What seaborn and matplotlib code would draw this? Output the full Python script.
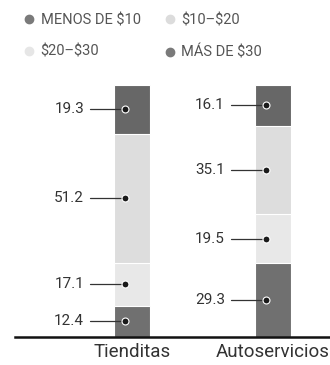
import numpy as np
import pandas as pd
import seaborn as sns
import matplotlib.pyplot as plt
from matplotlib.lines import Line2D

# datos (porcentaje)
tiendas = ["Tienditas", "Autoservicios"]
segmentos = ["MENOS DE \\$10", "\\$10–\\$20", "\\$20–\\$30", "MÁS DE \\$30"]
menos_10 = [12.4, 29.3]
de_10_20 = [17.1, 19.5]
de_20_30 = [51.2, 35.1]
mas_30 = [19.3, 16.1]

colores = ["#707070", "#e8e8e8", "#dddddd", "#676767"]
leyenda_col = ["#7a7a7a", "#dcdcdc", "#e6e6e6", "#7a7a7a"]

sns.set_theme(style="white")
plt.rcParams["font.family"] = ["Roboto", "DejaVu Sans"]

valores = np.array([menos_10, de_10_20, de_20_30, mas_30])
acum = valores.cumsum(axis=0)

fig = plt.figure(figsize=(3.3, 3.65), dpi=100)
ax = fig.add_axes([15 / 330, 28 / 365, 315 / 330, 252 / 365])

# barras apiladas: de arriba hacia abajo para que se superpongan
for k in range(len(segmentos) - 1, -1, -1):
    df = pd.DataFrame({"tienda": tiendas, "valor": acum[k]})
    sns.barplot(data=df, x="tienda", y="valor", color=colores[k], width=0.255,
                saturation=1, edgecolor="white", linewidth=0.8, ax=ax)

px = 1 / 141
for i in range(len(tiendas)):
    for k in range(len(segmentos)):
        ymid = acum[k][i] - valores[k][i] / 2
        xd = i - 7 * px
        ax.plot([i - 42 * px, xd], [ymid, ymid], color="#333333", lw=0.9, zorder=5)
        ax.plot(xd, ymid, "o", ms=5, color="#1a1a1a", mec="white", mew=0.8, zorder=6)
        ax.text(i - 48 * px, ymid, f"{valores[k][i]:.1f}", ha="right", va="center",
                fontsize=11, color="#333333")

ax.set_xlim(-117 * px, 1 + 57 * px)
ax.set_ylim(0, 100)
ax.set_xlabel("")
ax.set_ylabel("")
ax.set_yticks([])
sns.despine(ax=ax, left=True, right=True, top=True)
ax.spines["bottom"].set_color("#111111")
ax.spines["bottom"].set_linewidth(1.8)
ax.tick_params(axis="x", length=0, pad=4, labelsize=13.5, labelcolor="#333333")

# leyenda
handles = [Line2D([], [], marker="o", ls="", ms=6, color=leyenda_col[k], label=segmentos[k])
           for k in [0, 2, 1, 3]]
fig.legend(handles=handles, ncol=2, loc="upper left", bbox_to_anchor=(0.03, 0.995),
           frameon=False, fontsize=10.5, labelcolor="#555555", handletextpad=0.3,
           handlelength=1.0, columnspacing=1.5, labelspacing=1.2, borderpad=0.3)

fig.savefig("out.png", dpi=100)
